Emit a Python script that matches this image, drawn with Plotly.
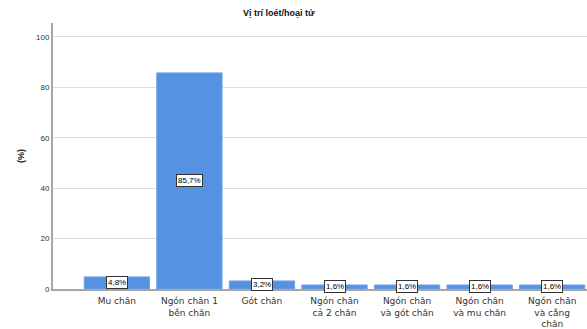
import plotly.graph_objects as go

categories = ["Mu chân", "Ngón chân 1<br>bên chân", "Gót chân", "Ngón chân<br>cả 2 chân",
              "Ngón chân<br>và gót chân", "Ngón chân<br>và mu chân", "Ngón chân<br>và cẳng<br>chân"]
values = [4.8, 85.7, 3.2, 1.6, 1.6, 1.6, 1.6]
labels = ["4,8%", "85,7%", "3,2%", "1,6%", "1,6%", "1,6%", "1,6%"]
y_ticks = [0, 20, 40, 60, 80, 100]

x_idx = list(range(len(categories)))

fig = go.Figure()
fig.add_trace(go.Bar(
    x=x_idx, y=values, marker=dict(color="#5592E2", line=dict(color="#6fa2e6", width=1)),
    width=0.9, hoverinfo="skip"))

for i, (v, t) in enumerate(zip(values, labels)):
    fig.add_annotation(x=i, y=v / 2, text=t, showarrow=False,
                       font=dict(family="Liberation Sans, Arial", size=8, color="#000"),
                       bgcolor="white", bordercolor="#333", borderwidth=1, borderpad=1)

fig.update_layout(
    width=587, height=329,
    margin=dict(l=53, r=0, t=23, b=40),
    paper_bgcolor="white", plot_bgcolor="white",
    showlegend=False,
    title=dict(text="<b>Vị trí loét/hoại tử</b>", x=0.475, xanchor="center", y=0.96, yanchor="middle",
               font=dict(family="Liberation Sans, Arial", size=9, color="#111")),
    font=dict(family="Liberation Sans, Arial", color="#333"),
    xaxis=dict(tickmode="array", tickvals=x_idx, ticktext=categories,
               range=[-0.88, 6.48], showline=True, linecolor="#a6a6a6", linewidth=2,
               showgrid=False, ticks="", ticklabelstandoff=2, automargin=False,
               tickfont=dict(family="DejaVu Sans", size=9, color="#333")),
    yaxis=dict(range=[0, 105.5], tickvals=y_ticks, showline=True, linecolor="#a6a6a6", linewidth=2,
               showgrid=True, gridcolor="#dcdcdc", gridwidth=1, zeroline=False,
               ticks="", tickfont=dict(size=8, color="#333"), automargin=False,
               title=dict(text="<b>(%)</b>", font=dict(size=9, color="#222"), standoff=10)),
)

fig.write_html("out.html")
